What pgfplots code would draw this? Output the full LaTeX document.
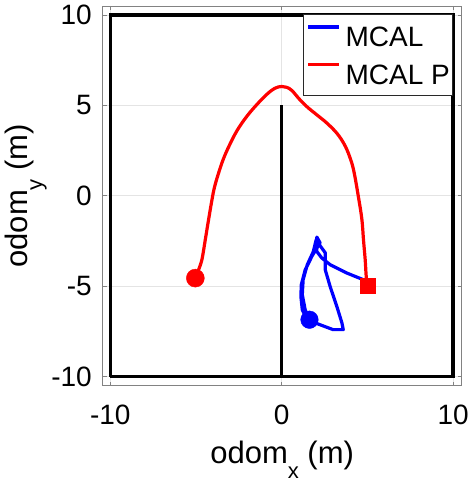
\documentclass[border=0pt]{standalone}
\usepackage{fontspec}
\setmainfont{Liberation Sans}
\usepackage{pgfplots}
\pgfplotsset{compat=1.18}
\definecolor{axisgray}{RGB}{130,130,130}
\definecolor{gridgray}{RGB}{228,228,228}
\definecolor{legendgray}{RGB}{40,40,40}
\begin{document}
\begin{tikzpicture}
\path[use as bounding box] (-102.6pt,-96.3pt) rectangle (370.4pt,385.7pt);
\begin{axis}[
  at={(0pt,0pt)}, anchor=south west,
  scale only axis, width=359.1pt, height=379.7pt,
  xmin=-10.45, xmax=10.5, ymin=-10.5, ymax=10.5,
  xtick={-10,0,10}, xticklabels={-10,0,10},
  ytick={-10,-5,0,5,10}, yticklabels={-10,-5,0,5,10},
  tick align=inside, major tick length=4pt,
  every tick/.style={axisgray, line width=0.8pt},
  axis line style={axisgray, line width=0.8pt},
  grid=major, major grid style={gridgray, line width=0.8pt},
  tick label style={font=\fontsize{28}{34}\selectfont, text=black},
  xticklabel style={anchor=base, inner sep=0pt, yshift=-38.3pt},
  yticklabel style={anchor=east, inner sep=0pt, xshift=-10.6pt},
  label style={font=\fontsize{31}{37}\selectfont},
  xlabel={odom\raisebox{-15pt}{\fontsize{22}{22}\selectfont x} (m)},
  ylabel={odom\raisebox{-15pt}{\fontsize{22}{22}\selectfont y} (m)},
  xlabel style={at={(axis description cs:0.5,-0.2036)}, anchor=base},
  ylabel style={at={(axis description cs:-0.2105,0.5)}, anchor=base},
  legend style={at={(axis description cs:0.9758,0.979)}, anchor=north east,
    draw=legendgray, line width=0.8pt, fill=white,
    font=\fontsize{28}{34}\selectfont,
    inner xsep=2.7pt, inner ysep=11pt, row sep=16pt, column sep=5pt,
    nodes={inner sep=0pt, text height=20pt, text depth=0pt}},
  legend cell align=left,
  legend image code/.code={\draw[#1, line width=3.2pt] (0pt,10pt) -- (31pt,10pt);},
]
% walls
\addplot[black, line width=3.3pt, forget plot] coordinates {(-10,-10) (10,-10) (10,10) (-10,10) (-10,-10)};
\addplot[black, line width=3pt, forget plot] coordinates {(0,-10) (0,5)};
% MCAL
\addplot[blue, line width=3.2pt, line join=round] coordinates {
(5.00,-4.97) (4.77,-4.64) (3.80,-4.27) (2.83,-3.81) (2.34,-3.44) (2.05,-3.08) (2.01,-2.54) (2.05,-2.28)
(2.24,-2.60) (1.78,-3.31) (1.37,-4.09) (1.14,-4.92) (1.12,-5.58) (1.20,-6.30) (1.43,-6.74) (1.78,-6.96)
(2.24,-7.13) (3.00,-7.40) (3.59,-7.40) (3.51,-7.02) (3.22,-6.13) (2.83,-5.03) (2.54,-4.09) (2.54,-3.15)
(2.24,-2.76) (2.01,-2.43) (1.84,-3.09) (1.49,-3.81) (1.25,-4.64) (1.20,-5.47) (1.37,-6.30) (1.62,-6.85)
};
% MCAL P
\addplot[red, line width=3.2pt, line join=round, smooth, tension=0.6] coordinates {
(5.00,-4.97) (4.93,-4.46) (4.87,-3.54) (4.77,-2.43) (4.68,-1.33) (4.50,-0.20) (4.20,1.40)
(3.95,2.20) (3.65,2.85) (3.22,3.46) (2.64,4.02) (2.05,4.48) (1.47,4.93) (1.00,5.38) (0.60,5.82)
(0.30,6.00) (0.00,6.05) (-0.40,5.95) (-0.86,5.62) (-1.45,5.05) (-2.05,4.38) (-2.60,3.62) (-3.05,2.80)
(-3.42,2.00) (-3.72,1.15) (-3.93,0.45) (-4.07,-0.22) (-4.27,-1.33) (-4.46,-2.43) (-4.65,-3.50)
(-4.85,-4.09) (-5.04,-4.55)
};
% markers
\addplot[blue, only marks, mark=*, mark size=8.8pt, forget plot] coordinates {(1.62,-6.85)};
\addplot[red, only marks, mark=*, mark size=9pt, forget plot] coordinates {(-5.04,-4.55)};
\addplot[red, only marks, mark=square*, mark size=7.5pt, forget plot] coordinates {(5.00,-4.97)};
\legend{MCAL, MCAL P\hspace{11pt}}
\end{axis}
\end{tikzpicture}
\end{document}
